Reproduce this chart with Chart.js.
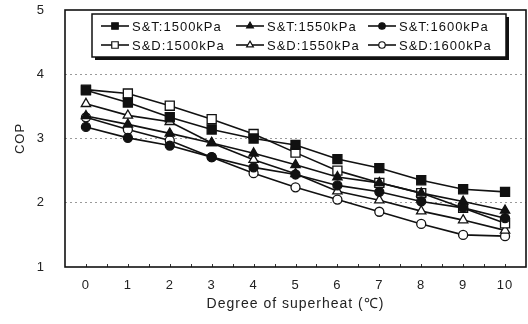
<!DOCTYPE html>
<html lang="en">
<head>
<meta charset="UTF-8">
<title>COP vs superheat</title>
<script src="https://cdn.jsdelivr.net/npm/chart.js"></script>
<style>
  html, body { margin: 0; padding: 0; background: #fff; }
  #wrap { width: 528px; height: 324px; }
</style>
</head>
<body>
<div id="wrap"><canvas id="grafico" width="528" height="324"></canvas></div>
<script>
// degree of superheat (x) and COP of each case
const superheat = [0, 1, 2, 3, 4, 5, 6, 7, 8, 9, 10];
const st1500 = [3.75, 3.56, 3.33, 3.14, 3.00, 2.90, 2.68, 2.54, 2.35, 2.21, 2.17];
const st1550 = [3.35, 3.22, 3.08, 2.93, 2.77, 2.59, 2.40, 2.31, 2.15, 2.02, 1.88];
const st1600 = [3.18, 3.01, 2.89, 2.71, 2.55, 2.44, 2.27, 2.17, 2.02, 1.92, 1.76];
const sd1500 = [3.76, 3.70, 3.51, 3.30, 3.07, 2.78, 2.50, 2.31, 2.15, 1.92, 1.68];
const sd1550 = [3.54, 3.36, 3.26, 2.93, 2.67, 2.45, 2.18, 2.04, 1.87, 1.73, 1.57];
const sd1600 = [3.33, 3.14, 2.97, 2.71, 2.46, 2.24, 2.05, 1.86, 1.67, 1.50, 1.48];
const nomes = ['S&T:1500kPa', 'S&T:1550kPa', 'S&T:1600kPa', 'S&D:1500kPa', 'S&D:1550kPa', 'S&D:1600kPa'];
const yTicks = [1, 2, 3, 4, 5];

const fonte = 'Arial, "Liberation Sans", sans-serif';

function pontos(arr) {
  return arr.map((v, i) => ({ x: superheat[i], y: v }));
}

// marker style per series
const estilos = [
  { shape: 'rect', fill: true, r: 6.4 },
  { shape: 'triangle', fill: true, r: 5.4 },
  { shape: 'circle', fill: true, r: 4.5 },
  { shape: 'rect', fill: false, r: 6.4 },
  { shape: 'triangle', fill: false, r: 5.4 },
  { shape: 'circle', fill: false, r: 4.5 }
];
const series = [st1500, st1550, st1600, sd1500, sd1550, sd1600];

const datasets = series.map((s, i) => ({
  label: nomes[i],
  data: pontos(s),
  borderColor: '#111',
  borderWidth: 1.6,
  pointStyle: estilos[i].shape,
  pointRadius: estilos[i].r,
  pointBackgroundColor: estilos[i].fill ? '#111' : '#fff',
  pointBorderColor: '#111',
  pointBorderWidth: 1.3,
  tension: 0
}));
// draw order: open markers below filled ones as in the picture
datasets.forEach((d, i) => d.order = i < 3 ? 0 : 1);

function marcador(ctx, e, x, y) {
  ctx.beginPath();
  if (e.shape === 'rect') {
    const s = Math.SQRT1_2 * e.r;
    ctx.rect(x - s, y - s, 2 * s, 2 * s);
  } else if (e.shape === 'triangle') {
    const r = e.r;
    ctx.moveTo(x, y - r);
    ctx.lineTo(x + r * 0.866, y + r * 0.5);
    ctx.lineTo(x - r * 0.866, y + r * 0.5);
    ctx.closePath();
  } else {
    ctx.arc(x, y, e.r, 0, Math.PI * 2);
  }
  ctx.fillStyle = e.fill ? '#111' : '#fff';
  ctx.fill();
  ctx.lineWidth = 1.2;
  ctx.strokeStyle = '#111';
  ctx.stroke();
}

const espacamento = {
  id: 'espacamento',
  beforeUpdate(chart) { chart.ctx.letterSpacing = '1px'; },
  beforeDraw(chart) { chart.ctx.letterSpacing = '1px'; }
};

const moldura = {
  id: 'moldura',
  afterDatasetsDraw(chart) {
    const { ctx, chartArea: a, scales } = chart;
    ctx.save();
    ctx.letterSpacing = '1px';
    // small inside ticks on the bottom axis
    ctx.strokeStyle = '#333';
    ctx.lineWidth = 1;
    for (let v = 0; v <= 10; v += 0.5) {
      const px = Math.round(scales.x.getPixelForValue(v)) + 0.5;
      ctx.beginPath();
      ctx.moveTo(px, a.bottom);
      ctx.lineTo(px, a.bottom - 3);
      ctx.stroke();
    }
    // plot frame
    ctx.strokeStyle = '#111';
    ctx.lineWidth = 1.6;
    ctx.strokeRect(a.left, a.top, a.right - a.left, a.bottom - a.top);

    // legend box with shadow
    const bx = 92, by = 14, bw = 414, bh = 43;
    ctx.fillStyle = '#111';
    ctx.fillRect(bx + 3, by + 3, bw, bh);
    ctx.fillStyle = '#fff';
    ctx.fillRect(bx, by, bw, bh);
    ctx.lineWidth = 1.5;
    ctx.strokeRect(bx, by, bw, bh);

    const colX = [101, 236, 368];
    const rowY = [26, 45];
    ctx.font = '13px ' + fonte;
    ctx.textBaseline = 'middle';
    ctx.textAlign = 'left';
    for (let i = 0; i < 6; i++) {
      const x0 = colX[i % 3], y0 = rowY[Math.floor(i / 3)];
      ctx.strokeStyle = '#111';
      ctx.lineWidth = 1.6;
      ctx.beginPath();
      ctx.moveTo(x0, y0);
      ctx.lineTo(x0 + 28, y0);
      ctx.stroke();
      const e = estilos[i];
      marcador(ctx, { shape: e.shape, fill: e.fill, r: e.r * 0.72 }, x0 + 14, y0);
      ctx.fillStyle = '#111';
      ctx.fillText(nomes[i], x0 + 31, y0 + 1);
    }
    ctx.restore();
  }
};

new Chart(document.getElementById('grafico'), {
  type: 'line',
  data: { datasets },
  options: {
    responsive: false,
    animation: false,
    layout: { autoPadding: false, padding: { top: 10, right: 2, left: 0, bottom: 0 } },
    plugins: { legend: { display: false }, tooltip: { enabled: false } },
    scales: {
      x: {
        type: 'linear',
        min: -0.5,
        max: 10.5,
        afterBuildTicks(scale) { scale.ticks = superheat.map(v => ({ value: v })); },
        afterFit(scale) { scale.height = 57; scale.paddingLeft = 0; scale.paddingRight = 0; },
        grid: { display: false },
        border: { display: false },
        ticks: { color: '#222', padding: 3, maxRotation: 0, autoSkip: false, font: { family: fonte, size: 13 } },
        title: { display: true, text: 'Degree of superheat (℃)', color: '#222', padding: { top: 0, bottom: 11 }, font: { family: fonte, size: 14 } }
      },
      y: {
        min: 1,
        max: 5,
        afterBuildTicks(scale) { scale.ticks = yTicks.map(v => ({ value: v })); },
        afterFit(scale) { scale.width = 65; scale.paddingTop = 0; scale.paddingBottom = 0; },
        grid: {
          color: ctx => (ctx.tick && (ctx.tick.value === 1 || ctx.tick.value === 5)) ? 'rgba(0,0,0,0)' : '#9a9a9a',
          lineWidth: 1,
          drawTicks: false
        },
        border: { display: false, dash: [2, 3] },
        ticks: { color: '#222', padding: 20, font: { family: fonte, size: 13 } },
        title: { display: true, text: 'COP', color: '#222', padding: { top: 13, bottom: 0 }, font: { family: fonte, size: 13 } }
      }
    }
  },
  plugins: [espacamento, moldura]
});
</script>
</body>
</html>
